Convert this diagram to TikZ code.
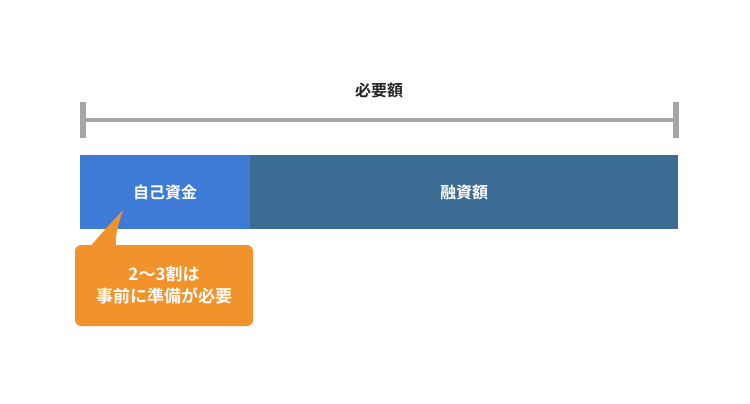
\documentclass[tikz,border=0pt]{standalone}
\usepackage{fontspec}
\setmainfont{Noto Sans CJK JP}[BoldFont={* Bold}]
\usetikzlibrary{positioning}
\definecolor{ownblue}{HTML}{3D7BD6}
\definecolor{loanblue}{HTML}{3A6C95}
\definecolor{notegold}{HTML}{F2922B}
\definecolor{rulegray}{HTML}{A6A6A6}
\tikzset{
  bartext/.style={text=white, font=\bfseries\fontsize{16}{18}\selectfont},
  notetext/.style={text=white, font=\bfseries\fontsize{17}{22}\selectfont, align=center}
}
\begin{document}
\begin{tikzpicture}[x=1pt, y=-1pt]
\useasboundingbox (0,0) rectangle (750,404);
% bracket over the whole amount
\coordinate (bl) at (83,120);
\coordinate (br) at (676,120);
\draw[rulegray, line width=4] (bl) -- (br);
\draw[rulegray, line width=6] ([yshift=-18]bl) -- ([yshift=18]bl);
\draw[rulegray, line width=6] ([yshift=-18]br) -- ([yshift=18]br);
\node[font=\bfseries\fontsize{16}{18}\selectfont, text=black!85] (total) at (379,90) {必要額};

% bar
\fill[loanblue] (250,155) rectangle (678,229);
\fill[ownblue] (80,155) rectangle (250,229);
\node[bartext] (own) at (165,192) {自己資金};
\node[bartext] (loan) at (464,192) {融資額};

% callout
\fill[notegold, rounded corners=6] (75,245) rectangle (253,326);
\fill[notegold] (90,247) .. controls (104,230) and (114,220) .. (123,210)
  .. controls (118,225) and (115,235) .. (116,247) -- cycle;
\node[notetext] (note) at (164,285) {2〜3割は\\事前に準備が必要};
\end{tikzpicture}
\end{document}
